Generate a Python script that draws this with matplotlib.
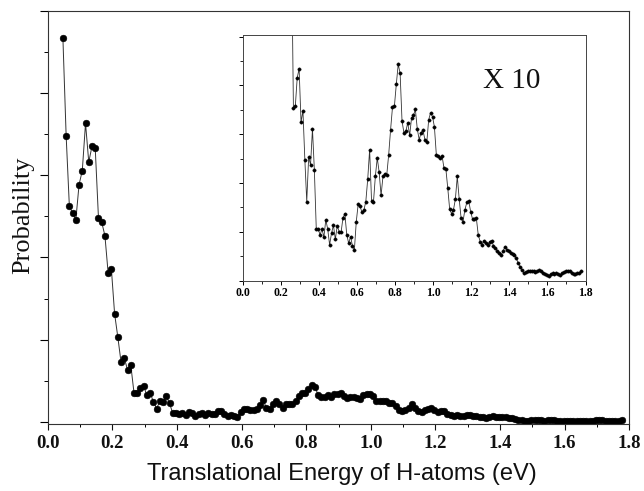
import numpy as np
import matplotlib
matplotlib.use("Agg")
import matplotlib.pyplot as plt
from matplotlib.ticker import FixedLocator, MultipleLocator, FormatStrFormatter

# Time-of-flight derived H-atom translational energy spectrum (eV)
energy = [
    0.047, 0.057, 0.067, 0.077, 0.087, 0.097, 0.107, 0.117, 0.127, 0.137,
    0.147, 0.157, 0.167, 0.177, 0.187, 0.197, 0.207, 0.217, 0.227, 0.237,
    0.247, 0.257, 0.267, 0.277, 0.287, 0.297, 0.307, 0.317, 0.327, 0.337,
    0.347, 0.357, 0.367, 0.377, 0.387, 0.397, 0.407, 0.417, 0.427, 0.437,
    0.447, 0.457, 0.467, 0.477, 0.487, 0.497, 0.507, 0.517, 0.527, 0.537,
    0.547, 0.557, 0.567, 0.577, 0.587, 0.597, 0.607, 0.617, 0.627, 0.637,
    0.647, 0.657, 0.667, 0.677, 0.687, 0.697, 0.707, 0.717, 0.727, 0.737,
    0.747, 0.757, 0.767, 0.777, 0.787, 0.797, 0.807, 0.817, 0.827, 0.837,
    0.847, 0.857, 0.867, 0.877, 0.887, 0.897, 0.907, 0.917, 0.927, 0.937,
    0.947, 0.957, 0.967, 0.977, 0.987, 0.997, 1.007, 1.017, 1.027, 1.037,
    1.047, 1.057, 1.067, 1.077, 1.087, 1.097, 1.107, 1.117, 1.127, 1.137,
    1.147, 1.157, 1.167, 1.177, 1.187, 1.197, 1.207, 1.217, 1.227, 1.237,
    1.247, 1.257, 1.267, 1.277, 1.287, 1.297, 1.307, 1.317, 1.327, 1.337,
    1.347, 1.357, 1.367, 1.377, 1.387, 1.397, 1.407, 1.417, 1.427, 1.437,
    1.447, 1.457, 1.467, 1.477, 1.487, 1.497, 1.507, 1.517, 1.527, 1.537,
    1.547, 1.557, 1.567, 1.577, 1.587, 1.597, 1.607, 1.617, 1.627, 1.637,
    1.647, 1.657, 1.667, 1.677, 1.687, 1.697, 1.707, 1.717, 1.727, 1.737,
    1.747, 1.757, 1.767, 1.777,
]

# Probability (arbitrary units)
probability = [
    9.33, 6.96, 5.24, 5.08, 4.91, 5.77, 6.11, 7.26, 6.32, 6.70,
    6.66, 4.97, 4.86, 4.53, 3.62, 3.72, 2.63, 2.06, 1.45, 1.55,
    1.27, 1.39, 0.709, 0.715, 0.832, 0.869, 0.649, 0.697, 0.496, 0.324,
    0.505, 0.475, 0.622, 0.452, 0.211, 0.211, 0.187, 0.211, 0.178, 0.249,
    0.211, 0.146, 0.194, 0.227, 0.169, 0.224, 0.201, 0.197, 0.256, 0.274,
    0.187, 0.153, 0.180, 0.142, 0.126, 0.242, 0.314, 0.304, 0.279, 0.289,
    0.324, 0.416, 0.537, 0.328, 0.320, 0.427, 0.503, 0.444, 0.349, 0.427,
    0.438, 0.434, 0.516, 0.619, 0.711, 0.715, 0.805, 0.887, 0.850, 0.654,
    0.606, 0.612, 0.647, 0.595, 0.667, 0.677, 0.702, 0.622, 0.578, 0.606,
    0.617, 0.578, 0.567, 0.660, 0.688, 0.672, 0.630, 0.516, 0.512, 0.503,
    0.512, 0.462, 0.458, 0.379, 0.293, 0.274, 0.290, 0.334, 0.427, 0.334,
    0.256, 0.242, 0.290, 0.320, 0.327, 0.283, 0.252, 0.254, 0.256, 0.187,
    0.160, 0.146, 0.164, 0.153, 0.146, 0.160, 0.164, 0.142, 0.132, 0.123,
    0.112, 0.105, 0.119, 0.139, 0.126, 0.119, 0.112, 0.109, 0.105, 0.091,
    0.071, 0.057, 0.043, 0.030, 0.034, 0.039, 0.037, 0.039, 0.037, 0.034,
    0.037, 0.043, 0.037, 0.030, 0.026, 0.023, 0.020, 0.026, 0.029, 0.026,
    0.030, 0.026, 0.023, 0.030, 0.034, 0.039, 0.037, 0.039, 0.030, 0.026,
    0.026, 0.029, 0.030, 0.037,
]

inset_scale = 10
xtick_values = [0.0, 0.2, 0.4, 0.6, 0.8, 1.0, 1.2, 1.4, 1.6, 1.8]

serif = ["Liberation Serif", "DejaVu Serif"]
sans = ["Liberation Sans", "DejaVu Sans"]

energy = np.asarray(energy)
probability = np.asarray(probability)

fig = plt.figure(figsize=(6.44, 4.91), dpi=100)

# ---- main spectrum ----
ax = fig.add_axes([0.0741, 0.1365, 0.9031, 0.8418])
ax.plot(energy, probability, "-", color="#333333", lw=0.7,
        marker="o", ms=4.8, mfc="black", mec="black", mew=0.4)
ax.set_xlim(0, 1.8)
ax.set_ylim(-0.05, 10)

ax.xaxis.set_major_locator(FixedLocator(xtick_values))
ax.xaxis.set_minor_locator(MultipleLocator(0.1))
ax.xaxis.set_major_formatter(FormatStrFormatter("%.1f"))
ax.yaxis.set_major_locator(FixedLocator([0, 2, 4, 6, 8, 10]))
ax.yaxis.set_minor_locator(FixedLocator([1, 3, 5, 7, 9]))
ax.yaxis.set_major_formatter(plt.NullFormatter())

ax.tick_params(axis="x", which="major", direction="out", length=4.5, width=0.8,
               pad=3.5, labelsize=13.5, colors="#111111")
ax.tick_params(axis="x", which="minor", direction="out", length=2.5, width=0.7)
ax.tick_params(axis="y", which="major", direction="out", length=6, width=0.8)
ax.tick_params(axis="y", which="minor", direction="out", length=3, width=0.7)
for lab in ax.get_xticklabels():
    lab.set_fontfamily(serif)
    lab.set_fontweight("bold")
for sp in ax.spines.values():
    sp.set_color("#333333")
    sp.set_linewidth(0.8)

fig.text(342 / 644, 1 - 474 / 491, "Translational Energy of H-atoms (eV)",
         ha="center", va="center", fontsize=17, family=sans, color="#111111")
fig.text(23 / 644, 1 - 215 / 491, "Probability", rotation=90,
         ha="center", va="center", fontsize=19, family=serif, color="#111111")

# ---- magnified inset ----
axi = fig.add_axes([0.3766, 0.4287, 0.5326, 0.4990])
axi.plot(energy, inset_scale * probability, "-", color="#333333", lw=0.6,
         marker="o", ms=2.4, mfc="black", mec="black", mew=0.3)
axi.set_xlim(0, 1.8)
axi.set_ylim(0, 10.05)
axi.xaxis.set_major_locator(FixedLocator(xtick_values))
axi.xaxis.set_minor_locator(MultipleLocator(0.1))
axi.xaxis.set_major_formatter(FormatStrFormatter("%.1f"))
axi.yaxis.set_major_locator(FixedLocator([0, 2, 4, 6, 8, 10]))
axi.yaxis.set_minor_locator(FixedLocator([1, 3, 5, 7, 9]))
axi.yaxis.set_major_formatter(plt.NullFormatter())
axi.tick_params(axis="x", which="major", direction="out", length=3, width=0.7,
                pad=2, labelsize=8.5)
axi.tick_params(axis="x", which="minor", direction="out", length=1.8, width=0.6)
axi.tick_params(axis="y", which="major", direction="out", length=3, width=0.7)
axi.tick_params(axis="y", which="minor", direction="out", length=2, width=0.6)
for lab in axi.get_xticklabels():
    lab.set_fontfamily(serif)
    lab.set_fontweight("bold")
for sp in axi.spines.values():
    sp.set_color("#444444")
    sp.set_linewidth(0.7)

axi.text(0.786, 0.814, "X 10", transform=axi.transAxes, ha="center",
         va="center", fontsize=21, family=serif, color="#111111")

fig.savefig("out.png", dpi=100)
